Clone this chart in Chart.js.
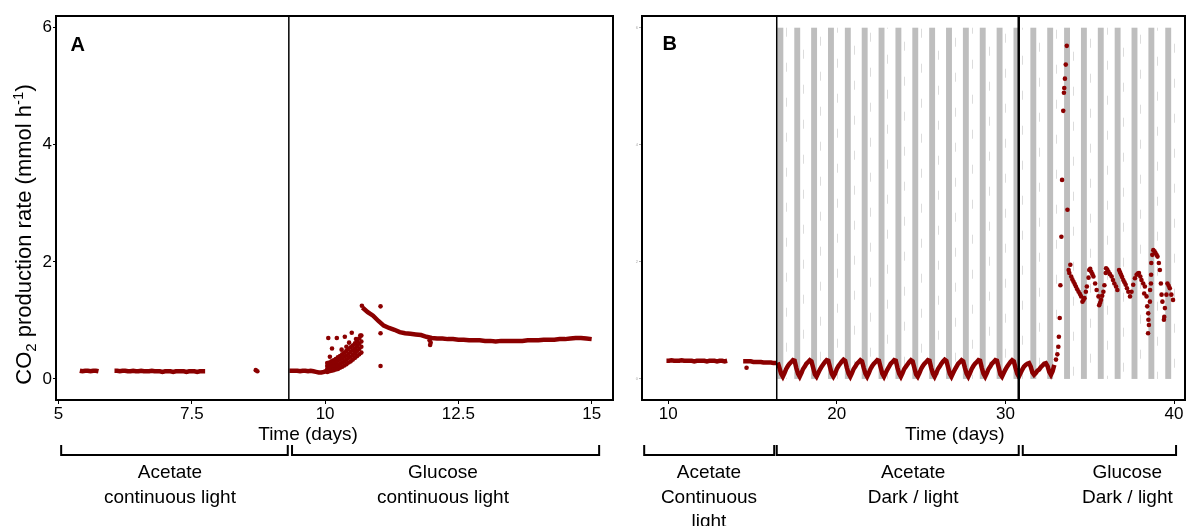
<!DOCTYPE html>
<html><head><meta charset="utf-8">
<script src="https://cdn.jsdelivr.net/npm/chart.js@4"></script>
<style>
html,body{margin:0;padding:0;background:#fff;}
#wrap{position:relative;width:1189px;height:526px;overflow:hidden;background:#fff;}
canvas{position:absolute;top:0;}
#ca{left:0;} #cb{left:620px;}
</style></head><body>
<div id="wrap"><canvas id="ca" width="620" height="526"></canvas><canvas id="cb" width="569" height="526"></canvas></div>
<script>
// ---------------- data ----------------
const rateTicks = [0, 2, 4, 6];
const aTimeTicks = [5, 7.5, 10, 12.5, 15];
const bTimeTicks = [10, 20, 30, 40];

// Panel A — acetate, continuous light
const aAcetate1Start = 5.40, aAcetate1Step = 0.05;
const aAcetate1Rate = [0.14,0.13,0.14,0.14,0.13,0.14,0.14,0.13];
const aAcetate2Start = 6.05, aAcetate2Step = 0.05;
const aAcetate2Rate = [0.14,0.14,0.13,0.14,0.14,0.13,0.13,0.14,0.13,0.13,
                       0.14,0.13,0.13,0.13,0.14,0.13,0.13,0.13,0.12,0.13,
                       0.13,0.13,0.12,0.13,0.13,0.13,0.13,0.12,0.13,0.13,
                       0.13,0.12,0.13,0.13,0.13];
const aAcetateDotTime = [8.70, 8.73];
const aAcetateDotRate = [0.15, 0.13];

// Panel A — glucose, continuous light
const aGlcBaseStart = 9.33, aGlcBaseStep = 0.05;
const aGlcBaseRate = [0.14,0.14,0.14,0.14,0.13,0.14,0.14,0.13,0.14,0.13,0.12,0.11,0.11,0.12,0.14];
const aBurstTime = [10.04,10.08,10.12,10.16,10.20,10.24,10.28,10.32,10.36,10.40,10.44,10.48,10.52,10.56,10.60,10.64,10.68];
const aBurstLow  = [0.12,0.13,0.14,0.15,0.16,0.17,0.19,0.21,0.23,0.25,0.28,0.30,0.33,0.36,0.39,0.42,0.45];
const aBurstMid  = [0.17,0.18,0.19,0.21,0.22,0.24,0.26,0.28,0.30,0.33,0.36,0.38,0.41,0.44,0.48,0.51,0.55];
const aBurstHigh = [0.22,0.23,0.25,0.27,0.29,0.31,0.33,0.35,0.38,0.40,0.43,0.46,0.49,0.52,0.56,0.60,0.64];
const aBurstTop  = [0.27,0.28,0.30,0.32,0.34,0.37,0.39,0.42,0.45,0.48,0.51,0.54,0.57,0.61,0.65,0.69,0.74];
const aScatterTime = [10.06,10.22,10.37,10.50,10.66,10.13,10.31,10.40,10.09,10.24,10.58,10.45,10.69,11.04,11.04,11.04,11.97,11.98,11.96];
const aScatterRate = [0.70,0.70,0.72,0.79,0.74,0.52,0.50,0.55,0.38,0.35,0.68,0.62,1.25,1.24,0.78,0.22,0.58,0.62,0.66];
const aGlcMainStart = 10.70, aGlcMainStep = 0.1;
const aGlcMainRate = [1.22,1.14,1.08,0.99,0.91,0.87,0.84,0.80,0.78,0.77,
                      0.76,0.75,0.72,0.70,0.69,0.69,0.68,0.68,0.67,0.67,
                      0.66,0.66,0.66,0.65,0.65,0.64,0.65,0.65,0.65,0.65,
                      0.65,0.66,0.66,0.66,0.67,0.67,0.67,0.68,0.68,0.69,
                      0.70,0.70,0.69,0.68];

// Panel B — acetate, continuous light
const bAcetate1Start = 9.90, bAcetate1Step = 0.15;
const bAcetate1Rate = [0.31,0.31,0.32,0.31,0.31,0.31,0.32,0.31,0.31,0.31,
                       0.31,0.30,0.31,0.31,0.31,0.31,0.30,0.31,0.31,0.31,
                       0.30,0.31,0.31,0.30,0.31];
const bAcetate2Start = 14.45, bAcetate2Step = 0.15;
const bAcetate2Rate = [0.30,0.30,0.30,0.30,0.29,0.29,0.29,0.29,0.28,0.28,0.28,0.28,0.27,0.27];
const bAcetateDotTime = [14.65];
const bAcetateDotRate = [0.19];

// Panel B — dark / light cycles (acetate then glucose before the burst)
const bCycleStart = 16.5, bCycleStep = 0.1;
const bCycleRate = [
  0.28,0.19,0.09,0.04,0.10,
  0.17,0.22,0.26,0.29,0.32,0.31,0.19,0.09,0.04,0.10,
  0.17,0.21,0.26,0.29,0.32,0.30,0.19,0.08,0.04,0.10,
  0.16,0.21,0.25,0.29,0.32,0.31,0.20,0.09,0.04,0.09,
  0.17,0.22,0.26,0.30,0.33,0.31,0.19,0.09,0.04,0.10,
  0.17,0.21,0.26,0.29,0.32,0.30,0.19,0.09,0.04,0.10,
  0.17,0.22,0.26,0.29,0.32,0.31,0.20,0.09,0.04,0.10,
  0.16,0.21,0.26,0.29,0.32,0.31,0.19,0.09,0.04,0.10,
  0.17,0.21,0.25,0.29,0.32,0.30,0.19,0.08,0.04,0.10,
  0.17,0.22,0.26,0.29,0.32,0.31,0.19,0.09,0.04,0.10,
  0.17,0.21,0.26,0.30,0.33,0.31,0.20,0.09,0.04,0.10,
  0.16,0.21,0.26,0.29,0.32,0.30,0.19,0.09,0.04,0.10,
  0.17,0.22,0.26,0.29,0.32,0.31,0.19,0.09,0.04,0.10,
  0.17,0.21,0.26,0.29,0.32,0.31,0.20,0.08,0.04,0.10,
  0.16,0.21,0.25,0.29,0.32,0.30,0.19,0.09,0.04,0.10,
  0.16,0.21,0.24,0.26,0.27,0.21,0.11,0.07,0.10,0.14,
  0.16,0.20,0.23,0.26,0.27,0.22,0.12,0.07,0.13,0.24
];

// Panel B — glucose burst and dark / light response
const bGlucoseTime = [
  33.00,33.08,33.14,33.17,33.22,33.26,33.32,33.36,33.43,33.47,
  33.49,33.53,33.58,33.64,33.68,33.75,33.79,33.85,33.90,33.97,
  34.04,34.11,34.18,34.26,34.34,34.42,34.49,34.57,34.63,34.69,
  34.77,34.83,34.93,34.97,35.03,35.09,35.16,35.22,35.32,35.41,
  35.52,35.56,35.62,35.67,35.74,35.81,35.87,35.95,35.97,36.04,
  36.11,36.20,36.30,36.38,36.46,36.56,36.64,36.74,36.80,36.86,
  36.92,36.99,37.06,37.13,37.21,37.29,37.39,37.48,37.58,37.68,
  37.78,37.85,37.92,38.00,38.07,38.17,38.23,38.27,38.37,38.41,
  38.46,38.47,38.48,38.51,38.57,38.58,38.63,38.64,38.65,38.71,
  38.77,38.84,38.90,38.96,39.02,39.10,39.16,39.22,39.26,39.31,
  39.40,39.42,39.46,39.55,39.61,39.68,39.75,39.84,39.94];
const bGlucoseRate = [
  0.33,0.42,0.55,0.72,1.04,1.60,2.43,3.40,4.58,4.89,
  4.97,5.13,5.37,5.69,2.89,1.86,1.81,1.95,1.75,1.70,
  1.66,1.62,1.58,1.53,1.49,1.45,1.41,1.32,1.35,1.38,
  1.49,1.58,1.73,1.86,1.88,1.83,1.79,1.75,1.63,1.52,
  1.41,1.26,1.30,1.35,1.42,1.49,1.60,1.81,1.89,1.87,
  1.83,1.79,1.75,1.69,1.63,1.58,1.52,1.86,1.82,1.78,
  1.74,1.69,1.65,1.61,1.55,1.49,1.41,1.49,1.61,1.72,
  1.78,1.80,1.81,1.75,1.69,1.63,1.46,1.58,1.41,1.24,
  0.78,1.12,1.01,0.92,1.32,1.52,1.63,1.78,1.98,2.12,
  2.20,2.18,2.15,2.12,2.09,1.98,1.86,1.63,1.44,1.32,
  1.01,1.06,1.21,1.44,1.63,1.59,1.55,1.44,1.35];

// Dark periods (days) in panel B
const bDarkOn  = [16.48,17.48,18.48,19.48,20.48,21.48,22.48,23.48,24.48,25.48,26.48,27.48,
                  28.48,29.48,30.48,31.48,32.48,33.48,34.48,35.48,36.48,37.48,38.48,39.48];
const bDarkOff = [16.83,17.83,18.83,19.83,20.83,21.83,22.83,23.83,24.83,25.83,26.83,27.83,
                  28.83,29.83,30.83,31.83,32.83,33.83,34.83,35.83,36.83,37.83,38.83,39.83];
const bDayMarks = [17,18,19,20,21,22,23,24,25,26,27,28,29,30,31,32,33,34,35,36,37,38,39,40];

// Phase changes and bottom annotations
const aPhaseSwitch = [9.32];
const bPhaseSwitch = [16.44, 30.79];
const aPhaseFrom = [5.05, 9.38], aPhaseTo = [9.30, 15.14];
const aPhaseLabelAt = [7.09, 12.21];
const aPhaseLabels = [['Acetate','continuous light'], ['Glucose','continuous light']];
const bPhaseFrom = [8.58, 16.44, 31.03], bPhaseTo = [16.29, 30.79, 40.12];
const bPhaseLabelAt = [12.42, 24.53, 37.23];
const bPhaseLabels = [['Acetate','Continuous','light'], ['Acetate','Dark / light'], ['Glucose','Dark / light']];

// ---------------- drawing ----------------
const RED = '#8b0000';
const FONT = "'Liberation Sans', Arial, Helvetica, sans-serif";
Chart.defaults.font.family = FONT;
Chart.defaults.color = '#000';

function grid(start, step, rates){ return rates.map((v,i)=>({x: +(start + i*step).toFixed(3), y: v})); }
function pairs(times, rates){ return times.map((t,i)=>({x: t, y: rates[i]})); }
function lineDs(data){ return {data, showLine:true, borderColor:RED, borderWidth:4.5, pointRadius:0, tension:0, backgroundColor:RED}; }
function dotDs(data){ return {data, showLine:false, pointRadius:2.3, pointBorderWidth:0, pointBackgroundColor:RED, backgroundColor:RED, borderColor:RED}; }

function makeScales(xmin, xmax, xTicks, yWidth, yFont, yColor){
  return {
    x:{type:'linear', min:xmin, max:xmax,
       afterBuildTicks(s){ s.ticks = xTicks.map(v=>({value:v})); },
       afterFit(s){ s.height = 126; },
       grid:{drawOnChartArea:false, drawTicks:true, tickLength:4, color:'#000', lineWidth:1},
       border:{display:false},
       ticks:{font:{size:17}, color:'#000', padding:0, maxRotation:0, autoSkip:false, callback:v=>String(v)}},
    y:{type:'linear', min:-0.36, max:6.2,
       afterBuildTicks(s){ s.ticks = rateTicks.map(v=>({value:v})); },
       afterFit(s){ s.width = yWidth; },
       grid:{drawOnChartArea:false, drawTicks:true, tickLength:3, color:yColor, lineWidth:1},
       border:{display:false},
       ticks:{font:{size:yFont}, color:yColor, padding:1, callback:v=>String(v)}}
  };
}

function brackets(chart, from, to, at, labels, titleAt){
  const {ctx, scales:{x}} = chart;
  ctx.save();
  ctx.strokeStyle = '#000'; ctx.lineWidth = 2; ctx.lineCap = 'butt';
  const yb = 455, yt = 445;
  from.forEach((f,i)=>{
    const x0 = x.getPixelForValue(f), x1 = x.getPixelForValue(to[i]);
    ctx.beginPath(); ctx.moveTo(x0, yt); ctx.lineTo(x0, yb); ctx.lineTo(x1, yb); ctx.lineTo(x1, yt); ctx.stroke();
  });
  ctx.fillStyle = '#000'; ctx.textAlign = 'center'; ctx.textBaseline = 'middle';
  ctx.font = '19px ' + FONT;
  ctx.fillText('Time (days)', x.getPixelForValue(titleAt), 435);
  const rows = [473, 498, 522];
  at.forEach((t,i)=>{
    labels[i].forEach((s,j)=> ctx.fillText(s, x.getPixelForValue(t), rows[j]));
  });
  ctx.restore();
}

function frameAndSwitches(chart, switches, widths){
  const {ctx, chartArea:a, scales:{x}} = chart;
  ctx.save();
  ctx.strokeStyle = '#000';
  switches.forEach((s,i)=>{
    const px = x.getPixelForValue(s);
    ctx.lineWidth = widths[i];
    ctx.beginPath(); ctx.moveTo(px, a.top); ctx.lineTo(px, a.bottom); ctx.stroke();
  });
  ctx.lineWidth = 2;
  ctx.strokeRect(a.left, a.top, a.right - a.left, a.bottom - a.top);
  ctx.restore();
}

function panelLetter(chart, letter, px, py){
  const ctx = chart.ctx;
  ctx.save(); ctx.fillStyle = '#000'; ctx.font = 'bold 20px ' + FONT;
  ctx.textAlign = 'left'; ctx.textBaseline = 'alphabetic';
  ctx.fillText(letter, px, py); ctx.restore();
}

function yTitle(chart){
  const ctx = chart.ctx;
  const big = '22px ' + FONT, small = '15px ' + FONT;
  const parts = [['CO', big, 0], ['2', small, 5], [' production rate (mmol h', big, 0], ['-1', small, -8], [')', big, 0]];
  ctx.save();
  let total = 0;
  parts.forEach(p=>{ ctx.font = p[1]; total += ctx.measureText(p[0]).width; });
  ctx.translate(31, 234.5); ctx.rotate(-Math.PI/2);
  ctx.fillStyle = '#000'; ctx.textAlign = 'left'; ctx.textBaseline = 'alphabetic';
  let cx = -total/2;
  parts.forEach(p=>{ ctx.font = p[1]; ctx.fillText(p[0], cx, p[2]); cx += ctx.measureText(p[0]).width; });
  ctx.restore();
}

const panelA = {
  id:'panelA',
  afterDatasetsDraw(chart){ frameAndSwitches(chart, aPhaseSwitch, [1.5]); },
  afterDraw(chart){
    brackets(chart, aPhaseFrom, aPhaseTo, aPhaseLabelAt, aPhaseLabels, 9.68);
    panelLetter(chart, 'A', 70.5, 50.7);
    yTitle(chart);
  }
};

const panelB = {
  id:'panelB',
  beforeDatasetsDraw(chart){
    const {ctx, chartArea:a, scales:{x, y}} = chart;
    ctx.save();
    ctx.beginPath(); ctx.rect(a.left, a.top, a.right - a.left, a.bottom - a.top); ctx.clip();
    const top = y.getPixelForValue(rateTicks[rateTicks.length-1]), bot = y.getPixelForValue(rateTicks[0]);
    ctx.strokeStyle = '#dcdcdc'; ctx.lineWidth = 1;
    bDayMarks.forEach((d,i)=>{
      const px = Math.round(x.getPixelForValue(d)) + 0.5;
      ctx.setLineDash([9, 26]); ctx.lineDashOffset = (i*13) % 35;
      ctx.beginPath(); ctx.moveTo(px, top); ctx.lineTo(px, bot); ctx.stroke();
    });
    ctx.setLineDash([]);
    ctx.fillStyle = '#bebebe';
    bDarkOn.forEach((s,i)=>{
      const x0 = x.getPixelForValue(s), x1 = x.getPixelForValue(bDarkOff[i]);
      ctx.fillRect(x0, top, x1 - x0, bot - top);
    });
    ctx.restore();
  },
  afterDatasetsDraw(chart){ frameAndSwitches(chart, bPhaseSwitch, [1.5, 2.5]); },
  afterDraw(chart){
    brackets(chart, bPhaseFrom, bPhaseTo, bPhaseLabelAt, bPhaseLabels, 27.0);
    panelLetter(chart, 'B', 42.5, 50.2);
  }
};

const common = {responsive:false, animation:false, events:[],
  plugins:{legend:{display:false}, tooltip:{enabled:false}}};

new Chart(document.getElementById('ca'), {
  type:'scatter',
  data:{datasets:[
    lineDs(grid(aAcetate1Start, aAcetate1Step, aAcetate1Rate)),
    lineDs(grid(aAcetate2Start, aAcetate2Step, aAcetate2Rate)),
    dotDs(pairs(aAcetateDotTime, aAcetateDotRate)),
    lineDs(grid(aGlcBaseStart, aGlcBaseStep, aGlcBaseRate)),
    dotDs(pairs(aBurstTime, aBurstLow)),
    dotDs(pairs(aBurstTime, aBurstMid)),
    dotDs(pairs(aBurstTime, aBurstHigh)),
    dotDs(pairs(aBurstTime, aBurstTop)),
    dotDs(pairs(aScatterTime, aScatterRate)),
    lineDs(grid(aGlcMainStart, aGlcMainStep, aGlcMainRate))
  ]},
  options:Object.assign({}, common, {
    layout:{padding:{left:0, top:16, right:7, bottom:0}},
    scales:makeScales(4.953, 15.40, aTimeTicks, 56, 17, '#000')
  }),
  plugins:[panelA]
});

new Chart(document.getElementById('cb'), {
  type:'scatter',
  data:{datasets:[
    lineDs(grid(bAcetate1Start, bAcetate1Step, bAcetate1Rate)),
    lineDs(grid(bAcetate2Start, bAcetate2Step, bAcetate2Rate)),
    dotDs(pairs(bAcetateDotTime, bAcetateDotRate)),
    lineDs(grid(bCycleStart, bCycleStep, bCycleRate)),
    dotDs(pairs(bGlucoseTime, bGlucoseRate))
  ]},
  options:Object.assign({}, common, {
    layout:{padding:{left:0, top:16, right:2, bottom:0}},
    scales:makeScales(8.45, 40.65, bTimeTicks, 22, 4, '#aaaaaa')
  }),
  plugins:[panelB]
});
</script></body></html>
